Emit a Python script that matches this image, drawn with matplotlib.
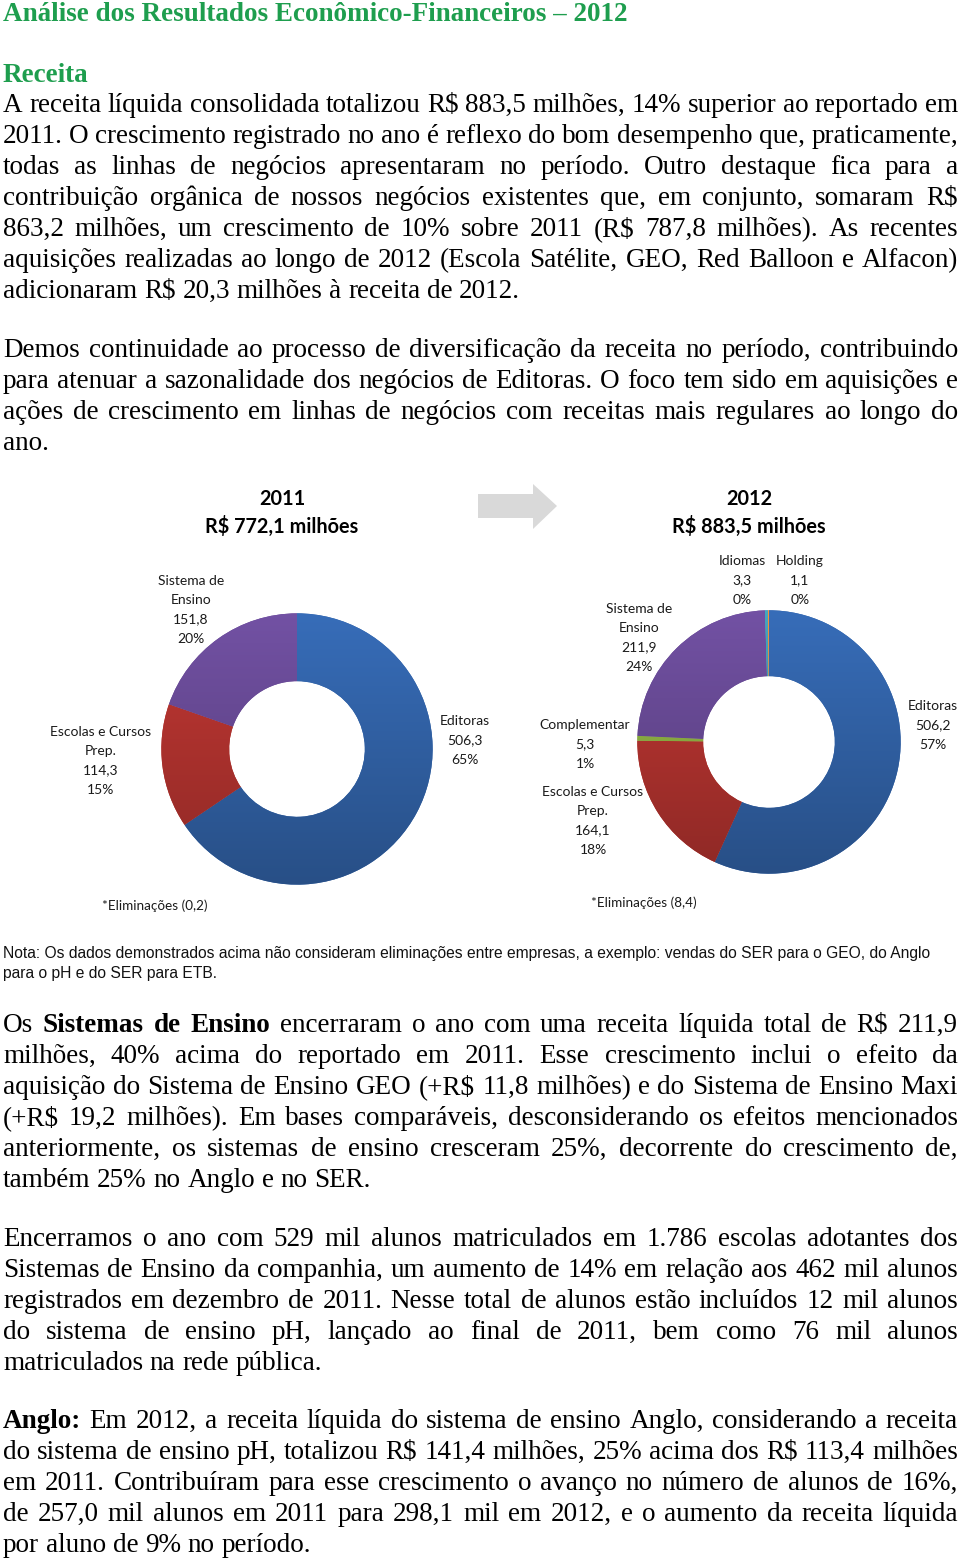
import numpy as np
import matplotlib
matplotlib.use('Agg')
import matplotlib.pyplot as plt
from matplotlib.patches import Polygon
from matplotlib.font_manager import FontProperties
from matplotlib.colors import to_rgb

plt.rcParams['text.parse_math'] = False

W, H = 960, 1561

# ---- chart data ----
segments_2011 = ['Editoras', 'Escolas e Cursos\nPrep.', 'Sistema de\nEnsino']
values_2011 = [506.3, 114.3, 151.8]
pcts_2011 = [65, 15, 20]
total_2011 = 772.1
elim_2011 = 0.2

segments_2012 = ['Editoras', 'Escolas e Cursos\nPrep.', 'Complementar',
                 'Sistema de\nEnsino', 'Idiomas', 'Holding']
values_2012 = [506.2, 164.1, 5.3, 211.9, 3.3, 1.1]
pcts_2012 = [57, 18, 1, 24, 0, 0]
total_2012 = 883.5
elim_2012 = 8.4

seg_colors = {
    'Editoras': '#3263A8',
    'Escolas e Cursos\nPrep.': '#B2332F',
    'Complementar': '#8DB043',
    'Sistema de\nEnsino': '#684A95',
    'Idiomas': '#3E97AF',
    'Holding': '#E5852F',
}

# ---- page text ----
title = 'Análise dos Resultados Econômico-Financeiros – 2012'
heading = 'Receita'
par1 = [
    'A receita líquida consolidada totalizou R$ 883,5 milhões, 14% superior ao reportado em',
    '2011. O crescimento registrado no ano é reflexo do bom desempenho que, praticamente,',
    'todas as linhas de negócios apresentaram no período. Outro destaque fica para a',
    'contribuição orgânica de nossos negócios existentes que, em conjunto, somaram R$',
    '863,2 milhões, um crescimento de 10% sobre 2011 (R$ 787,8 milhões). As recentes',
    'aquisições realizadas ao longo de 2012 (Escola Satélite, GEO, Red Balloon e Alfacon)',
    'adicionaram R$ 20,3 milhões à receita de 2012.',
]
par2 = [
    'Demos continuidade ao processo de diversificação da receita no período, contribuindo',
    'para atenuar a sazonalidade dos negócios de Editoras. O foco tem sido em aquisições e',
    'ações de crescimento em linhas de negócios com receitas mais regulares ao longo do',
    'ano.',
]
nota = [
    'Nota: Os dados demonstrados acima não consideram eliminações entre empresas, a exemplo: vendas do SER para o GEO, do Anglo',
    'para o pH e do SER para ETB.',
]
par3 = [
    'Os **Sistemas de Ensino** encerraram o ano com uma receita líquida total de R$ 211,9',
    'milhões, 40% acima do reportado em 2011. Esse crescimento inclui o efeito da',
    'aquisição do Sistema de Ensino GEO (+R$ 11,8 milhões) e do Sistema de Ensino Maxi',
    '(+R$ 19,2 milhões). Em bases comparáveis, desconsiderando os efeitos mencionados',
    'anteriormente, os sistemas de ensino cresceram 25%, decorrente do crescimento de,',
    'também 25% no Anglo e no SER.',
]
par4 = [
    'Encerramos o ano com 529 mil alunos matriculados em 1.786 escolas adotantes dos',
    'Sistemas de Ensino da companhia, um aumento de 14% em relação aos 462 mil alunos',
    'registrados em dezembro de 2011. Nesse total de alunos estão incluídos 12 mil alunos',
    'do sistema de ensino pH, lançado ao final de 2011, bem como 76 mil alunos',
    'matriculados na rede pública.',
]
par5 = [
    '**Anglo:** Em 2012, a receita líquida do sistema de ensino Anglo, considerando a receita',
    'do sistema de ensino pH,  totalizou R$ 141,4 milhões, 25% acima dos R$ 113,4 milhões',
    'em 2011. Contribuíram para esse crescimento o avanço no número de alunos de 16%,',
    'de 257,0 mil alunos em 2011 para 298,1 mil em 2012, e o aumento da receita líquida',
    'por aluno de 9% no período.',
]

GREEN = '#1E9E4E'
SERIF = 'Liberation Serif'
BODY = 19.5
LEFT, RIGHT = 3, 958
STEP = 31

fig = plt.figure(figsize=(W / 100, H / 100), dpi=100)
page = fig.add_axes([0, 0, 1, 1])
page.set_xlim(0, W)
page.set_ylim(H, 0)
page.axis('off')
renderer = fig.canvas.get_renderer()


def width(s, prop):
    return renderer.get_text_width_height_descent(s, prop, ismath=False)[0]


def draw_line(line, y, justify):
    words = []
    for i, part in enumerate(line.split('**')):
        for w in part.split():
            words.append((w, i % 2 == 1))
    props = [FontProperties(family=SERIF, size=BODY, weight='bold' if b else 'normal')
             for _, b in words]
    widths = [width(w, p) for (w, _), p in zip(words, props)]
    space = width('x x', props[0]) - width('xx', props[0])
    if justify and len(words) > 1:
        gap = (RIGHT - LEFT - sum(widths)) / (len(words) - 1)
    else:
        gap = space
    x = LEFT
    for (w, b), p, wd in zip(words, props, widths):
        page.text(x, y, w, fontproperties=p, ha='left', va='baseline', color='black')
        x += wd + gap


def draw_paragraph(lines, y0):
    for i, line in enumerate(lines):
        draw_line(line, y0 + i * STEP, justify=(i < len(lines) - 1))


page.text(LEFT, 21, title, family=SERIF, weight='bold', size=BODY, color=GREEN,
          ha='left', va='baseline')
page.text(LEFT, 82, heading, family=SERIF, weight='bold', size=BODY, color=GREEN,
          ha='left', va='baseline')
draw_paragraph(par1, 112)
draw_paragraph(par2, 357)
draw_paragraph(par3, 1032)
draw_paragraph(par4, 1246)
draw_paragraph(par5, 1428)

for i, line in enumerate(nota):
    page.text(LEFT, 958 + i * 20, line, family='Liberation Sans', size=11.25,
              ha='left', va='baseline', color='#111111')

# arrow between the two charts
page.add_patch(Polygon([(478, 494), (533, 494), (533, 484), (557, 506),
                        (533, 529), (533, 518), (478, 518)],
                       closed=True, facecolor='#D9D9D9', edgecolor='none'))


def fmt(v):
    return f'{v:.1f}'.replace('.', ',')


def shade(c, f):
    return np.clip(np.array(to_rgb(c)) * f, 0, 1)


def donut(cx, cy, r, segments, values):
    ax = fig.add_axes([(cx - r) / W, (H - cy - r) / H, 2 * r / W, 2 * r / H])
    colors = [seg_colors[s] for s in segments]
    wedges, _ = ax.pie(values, colors=colors, startangle=90, counterclock=False,
                       radius=1, wedgeprops=dict(width=0.5, linewidth=0))
    g = np.linspace(0, 1, 256)[:, None, None]
    for wdg, c in zip(wedges, colors):
        img = shade(c, 1.1) * (1 - g) + shade(c, 0.8) * g
        im = ax.imshow(img, extent=(-1, 1, -1, 1), origin='upper', aspect='auto',
                       interpolation='bilinear', zorder=wdg.get_zorder() + 0.1)
        im.set_clip_path(wdg)
    ax.set_xlim(-1.01, 1.01)
    ax.set_ylim(-1.01, 1.01)
    ax.set_aspect('equal')
    ax.axis('off')


def seg_label(x, y, name, value, pct):
    lines = name.split('\n') + [fmt(value), f'{pct}%']
    for i, s in enumerate(lines):
        page.text(x, y + i * 19.3, s, family='Lato', size=10, ha='center',
                  va='center', color='#1a1a1a')


donut(297, 749, 137, segments_2011, values_2011)
donut(769, 742, 133, segments_2012, values_2012)

pos_2011 = [(465, 721), (101, 732), (191, 581)]
for (x, y), n, v, p in zip(pos_2011, segments_2011, values_2011, pcts_2011):
    seg_label(x, y, n, v, p)
pos_2012 = [(933, 706), (593, 792), (585, 725), (639, 609), (742, 561), (800, 561)]
for (x, y), n, v, p in zip(pos_2012, segments_2012, values_2012, pcts_2012):
    seg_label(x, y, n, v, p)

for x, yr, tot in [(282, '2011', total_2011), (749, '2012', total_2012)]:
    page.text(x, 499, yr, family='Lato', weight='bold', size=14.3, ha='center', va='center')
    page.text(x, 526, f'R$ {fmt(tot)} milhões', family='Lato', weight='bold', size=14.3,
              ha='center', va='center')

page.text(155, 906, f'*Eliminações ({fmt(elim_2011)})', family='Lato', size=9.7,
          ha='center', va='center', color='#1a1a1a')
page.text(644, 903, f'*Eliminações ({fmt(elim_2012)})', family='Lato', size=9.7,
          ha='center', va='center', color='#1a1a1a')

fig.savefig('out.png', dpi=100, facecolor='white')
